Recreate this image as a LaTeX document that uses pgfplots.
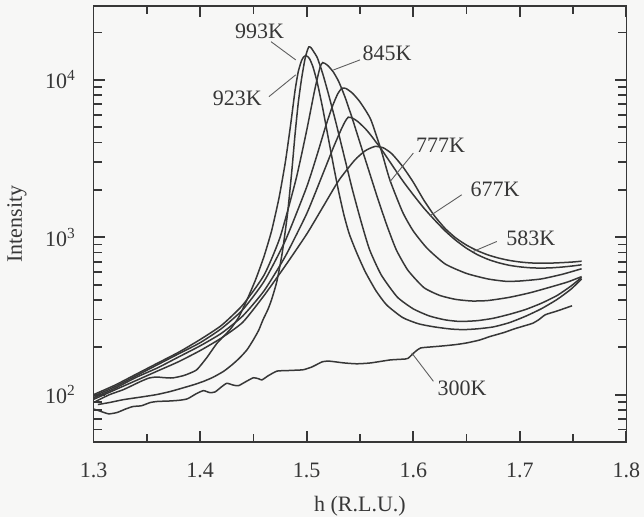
\documentclass[border=0pt]{standalone}
\usepackage{fontspec}
\setmainfont{Liberation Serif}
\usepackage{pgfplots}
\pgfplotsset{compat=1.18}

\definecolor{ink}{RGB}{55,55,55}
\definecolor{paper}{RGB}{247,247,246}

% scan data: intensity (counts) along h at several temperatures
\pgfplotstableread{
h I
1.300 81
1.305 79
1.314 75.5
1.322 77
1.330 81
1.337 84
1.345 85
1.353 89
1.360 90.5
1.370 91
1.380 92
1.388 94
1.396 101
1.403 106
1.409 103
1.414 104
1.420 112
1.425 118
1.431 115
1.436 114
1.443 121
1.450 128
1.455 126
1.458 124
1.464 132
1.472 141
1.480 142
1.490 143
1.497 144
1.505 150
1.515 162
1.522 163
1.535 159
1.547 157
1.560 159
1.578 166
1.590 168
1.595 170
1.602 188
1.607 198
1.617 201
1.628 204
1.640 208
1.650 213
1.662 222
1.672 234
1.685 248
1.695 262
1.703 272
1.712 284
1.718 300
1.724 322
1.735 340
1.749 367
}\tblA

\pgfplotstableread{
h I
1.300 93.3
1.320 107.2
1.340 123
1.360 141.3
1.380 162.2
1.400 190.5
1.420 229.1
1.440 288.4
1.460 426.6
1.480 660.7
1.500 1047
1.515 1549
1.530 2291
1.545 3090
1.555 3548
1.564 3776
1.572 3698
1.580 3388
1.590 2818
1.600 2239
1.610 1718
1.620 1365
1.630 1135
1.640 988.5
1.650 891.3
1.660 822.2
1.670 772.7
1.680 737.9
1.690 712.9
1.700 696.6
1.710 687.1
1.720 683.9
1.730 685.5
1.740 690.2
1.750 696.6
1.758 704.7
}\tblB

\pgfplotstableread{
h I
1.300 95.5
1.320 109.6
1.340 128.8
1.360 147.9
1.380 173.8
1.400 204.2
1.420 245.5
1.440 316.2
1.460 457.1
1.480 758.6
1.500 1413
1.515 2512
1.525 3715
1.532 4786
1.536 5433
1.539 5794
1.543 5715
1.548 5433
1.555 4898
1.560 4467
1.565 4027
1.570 3631
1.580 2884
1.590 2291
1.600 1862
1.610 1531
1.620 1288
1.630 1096
1.640 955
1.650 851
1.660 776.2
1.670 724.4
1.680 688.7
1.690 663.7
1.700 648.6
1.710 639.7
1.720 636.8
1.730 639.7
1.740 647.1
1.750 657.7
1.758 668.3
}\tblC

\pgfplotstableread{
h I
1.300 97.7
1.320 112.2
1.340 131.8
1.360 154.9
1.380 182
1.400 213.8
1.420 263
1.440 346.7
1.460 524.8
1.480 955
1.500 2089
1.510 3388
1.518 5129
1.524 6761
1.529 8128
1.533 8851
1.537 8810
1.543 8222
1.550 7244
1.560 5623
1.570 3548
1.578 2317
1.590 1445
1.600 1096
1.613 851
1.630 676
1.650 588.8
1.670 543.3
1.687 524.8
1.700 527.2
1.720 543.3
1.740 582.1
1.758 631
}\tblD

\pgfplotstableread{
h I
1.300 100
1.320 114.8
1.340 134.9
1.360 158.5
1.380 186.2
1.400 223.9
1.420 275.4
1.440 371.5
1.460 575.4
1.475 1000
1.490 2344
1.500 4786
1.507 8318
1.511 10965
1.513 12303
1.515 12882
1.517 12735
1.520 12303
1.525 11220
1.530 9772
1.536 7762
1.543 5623
1.550 3981
1.558 2692
1.566 1820
1.575 1202
1.584 834
1.595 616.6
1.610 478.6
1.625 426.6
1.640 402.7
1.655 393.6
1.670 396.3
1.690 415
1.710 444.6
1.730 485.3
1.745 520
1.758 562.3
}\tblE

\pgfplotstableread{
h I
1.304 86.5
1.315 89.1
1.328 92.9
1.344 96.4
1.359 100
1.372 104.7
1.384 110.4
1.394 115.6
1.403 121.3
1.412 128.8
1.422 140.6
1.430 154.9
1.437 171
1.444 192.8
1.450 223.4
1.455 257
1.459 299.2
1.4635 346.7
1.467 400.9
1.472 524.8
1.477 794.3
1.482 1413
1.486 2630
1.489 4467
1.492 7079
1.495 10000
1.498 13183
1.500 14962
1.502 16218
1.504 16032
1.506 15311
1.510 13804
1.515 10965
1.520 8318
1.527 5495
1.535 3311
1.543 1995
1.551 1259
1.559 833.7
1.570 575.4
1.585 416.9
1.600 350.8
1.615 316.2
1.630 298.5
1.644 291.7
1.660 295.1
1.675 305.5
1.690 323.6
1.705 346.7
1.720 380.2
1.735 426.6
1.748 489.8
1.758 555.9
}\tblF

\pgfplotstableread{
h I
1.302 90.6
1.315 100
1.328 107.6
1.344 121.1
1.352 127.4
1.359 129.4
1.366 128.2
1.374 127.6
1.384 131.8
1.390 136.5
1.397 144.2
1.406 171
1.416 212.8
1.428 258.8
1.436 309
1.444 400.9
1.452 537
1.460 758.6
1.467 1096
1.474 1778
1.480 3020
1.485 5248
1.489 8511
1.492 11220
1.495 13183
1.497 13964
1.499 14289
1.501 14060
1.503 13490
1.506 12023
1.510 9550
1.515 6607
1.520 4365
1.525 2884
1.530 1950
1.535 1380
1.540 1047
1.547 794.3
1.555 602.6
1.565 457.1
1.575 371.5
1.590 309
1.605 281.8
1.620 269.2
1.635 261.2
1.647 258.8
1.660 261.8
1.675 269.2
1.690 286.4
1.705 314
1.720 350.8
1.735 402.7
1.748 467.7
1.758 543.3
}\tblG

\begin{document}
\fontsize{11}{13}\selectfont
\begin{tikzpicture}
\fill[paper] (-46.8pt,-37.5pt) rectangle (275.2pt,221pt);
\begin{axis}[
  at={(0,0)}, anchor=south west,
  scale only axis, width=266.4pt, height=218pt,
  xmin=1.3, xmax=1.8,
  ymode=log, ymin=50, ymax=29500,
  xtick={1.3,1.4,1.5,1.6,1.7,1.8},
  xticklabels={1.3,1.4,1.5,1.6,1.7,1.8},
  minor xtick={1.35,1.45,1.55,1.65,1.75},
  ytick={100,1000,10000},
  yticklabels={10\textsuperscript{2},10\textsuperscript{3},10\textsuperscript{4}},
  minor ytick={60,70,80,90,200,300,400,500,600,700,800,900,2000,3000,4000,5000,6000,7000,8000,9000,20000},
  tickwidth=5.5pt, subtickwidth=4.2pt,
  axis line style={ink, line width=0.75pt},
  xtick style={draw=ink, line width=0.9pt},
  ytick style={draw=ink, line width=0.9pt},
  xticklabel style={yshift=-6.5pt, font=\fontsize{11}{13}\selectfont, text=ink},
  yticklabel style={xshift=-5pt, font=\fontsize{11}{13}\selectfont, text=ink},
  curve/.style={ink, line width=0.75pt, smooth, tension=0.35, mark=none},
]
\addplot[curve] table {\tblA};
\addplot[curve] table {\tblB};
\addplot[curve] table {\tblC};
\addplot[curve] table {\tblD};
\addplot[curve] table {\tblE};
\addplot[curve] table {\tblF};
\addplot[curve] table {\tblG};

\begin{scope}[every node/.style={text=ink, font=\fontsize{11}{13}\selectfont, inner sep=0pt}]
\node at (axis cs:1.4557,20260) {993K};
\node at (axis cs:1.4348,7656) {923K};
\node at (axis cs:1.5754,14826) {845K};
\node at (axis cs:1.6256,3864) {777K};
\node at (axis cs:1.6767,2003) {677K};
\node at (axis cs:1.7104,988) {583K};
\node at (axis cs:1.6458,110.3) {300K};
\end{scope}
\begin{scope}[ink!80, line width=0.45pt]
\draw (axis cs:1.4665,17500) -- (axis cs:1.4897,13400);
\draw (axis cs:1.4646,7834) -- (axis cs:1.4897,10770);
\draw (axis cs:1.5500,13400) -- (axis cs:1.5250,11560);
\draw (axis cs:1.6001,3428) -- (axis cs:1.5782,2259);
\draw (axis cs:1.6455,1862) -- (axis cs:1.6158,1371);
\draw (axis cs:1.6784,940) -- (axis cs:1.6564,813);
\draw (axis cs:1.6189,121.5) -- (axis cs:1.5986,184);
\end{scope}
\end{axis}
\node[text=ink, rotate=90, anchor=base] at (-35.8pt,109pt) {Intensity};
\node[text=ink, anchor=base] at (133.2pt,-34.8pt) {h (R.L.U.)};
\pgfresetboundingbox
\useasboundingbox (-46.8pt,-37.5pt) rectangle (275.2pt,221pt);
\end{tikzpicture}
\end{document}
